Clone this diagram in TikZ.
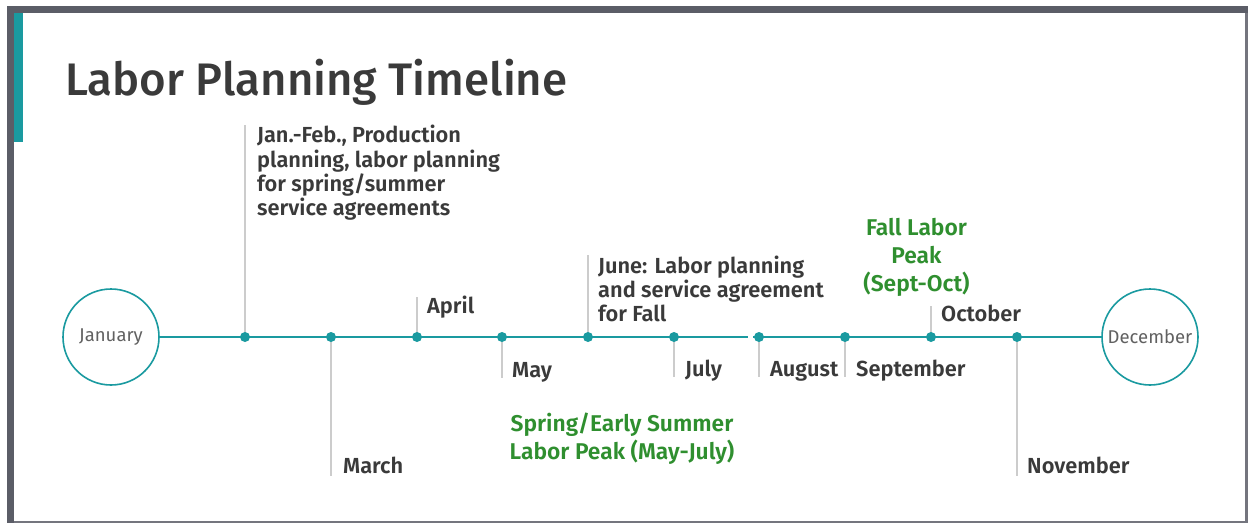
\documentclass[tikz,border=0pt]{standalone}
\usepackage{fontspec}
\setmainfont{Fira Sans}[BoldFont={Fira Sans SemiBold}]
\newfontfamily\titlefont{Fira Sans Medium}
\begin{document}
\definecolor{teal1}{HTML}{1A9AA0}
\definecolor{frame}{HTML}{5B5D67}
\definecolor{tick}{HTML}{CCCCCC}
\definecolor{ink}{HTML}{3A3A3A}
\definecolor{peak}{HTML}{2F8F2F}
\begin{tikzpicture}[x=1pt,y=-1pt,
  month/.style={circle,draw=teal1,line width=1.6pt,fill=white,minimum size=96pt,inner sep=0pt,
    text=ink!80,font=\fontsize{18.5}{22}\selectfont},
  dot/.style={circle,fill=teal1,inner sep=0pt,minimum size=10pt},
  ticker/.style={draw=tick,line width=1.4pt},
  lbl/.style={inner sep=0pt,text=ink,align=left,font=\bfseries\fontsize{21.8}{24.3}\selectfont},
  peaklbl/.style={inner sep=0pt,text=peak,align=center,font=\bfseries\fontsize{22.8}{28.2}\selectfont}]
% canvas and frame
\useasboundingbox (0,0) rectangle (1248,523);
\fill[white] (0,0) rectangle (1248,523);
\fill[frame] (7,6) rectangle (1248,13);
\fill[frame] (7,6) rectangle (14,523);
\fill[frame!85] (1245,13) rectangle (1247.5,523);
\fill[frame!85] (14,521) rectangle (1247.5,523);
\fill[teal1] (14,13) rectangle (23,142);

% title
\node[anchor=base west,inner sep=0pt,text=ink,font=\titlefont\fontsize{45.6}{50}\selectfont] (title) at (65,95) {Labor Planning Timeline};

% end circles
\node[month] (jan) at (111,337) {January};
\node[month] (dec) at (1150,337) {December};

% month positions on the line
\foreach \n/\x in {1/245,2/331,3/417,4/502,5/588,6/674,7/759,8/845,9/931,10/1017}
  \coordinate (p\n) at (\x,337);

% tick ends
\coordinate (t1) at (245,125);
\coordinate (t2) at (331,476);
\coordinate (t3) at (417,297);
\coordinate (t4) at (502,378);
\coordinate (t5) at (588,255);
\coordinate (t6) at (674,377);
\coordinate (t7) at (759,377);
\coordinate (t8) at (845,377);
\coordinate (t9) at (931,306);
\coordinate (t10) at (1017,476);
\foreach \n in {1,...,10}
  \draw[ticker] (p\n) -- (t\n);

% main line with small break before August
\coordinate (gapL) at (748,337);
\coordinate (gapR) at (753,337);
\draw[teal1,line width=1.8pt] (jan) -- (gapL);
\draw[teal1,line width=1.8pt] (gapR) -- (dec);

\foreach \n in {1,...,10}
  \node[dot] (d\n) at (p\n) {};

% labels
\node[lbl,anchor=north west] (jf) at (257,125) {Jan.-Feb., Production\\planning, labor planning\\for spring/summer\\service agreements};
\node[lbl,anchor=base west] (march) at (343,473) {March};
\node[lbl,anchor=base west] (april) at (427,313) {April};
\node[lbl,anchor=base west] (may) at (512,377) {May};
\node[lbl,anchor=north west] (june) at (598,255.5) {June: Labor planning\\and service agreement\\for Fall};
\node[lbl,anchor=base west] (july) at (685,376) {July};
\node[lbl,anchor=base west] (august) at (770,376) {August};
\node[lbl,anchor=base west] (september) at (856,376) {September};
\node[lbl,anchor=base west] (october) at (941,321) {October};
\node[lbl,anchor=base west] (november) at (1027,473) {November};

% labour peaks
\node[peaklbl,anchor=north] (fallpeak) at (916.5,218) {Fall Labor\\Peak\\(Sept-Oct)};
\node[peaklbl,anchor=north] (springpeak) at (622,413) {Spring/Early Summer\\Labor Peak (May-July)};
\end{tikzpicture}
\end{document}
